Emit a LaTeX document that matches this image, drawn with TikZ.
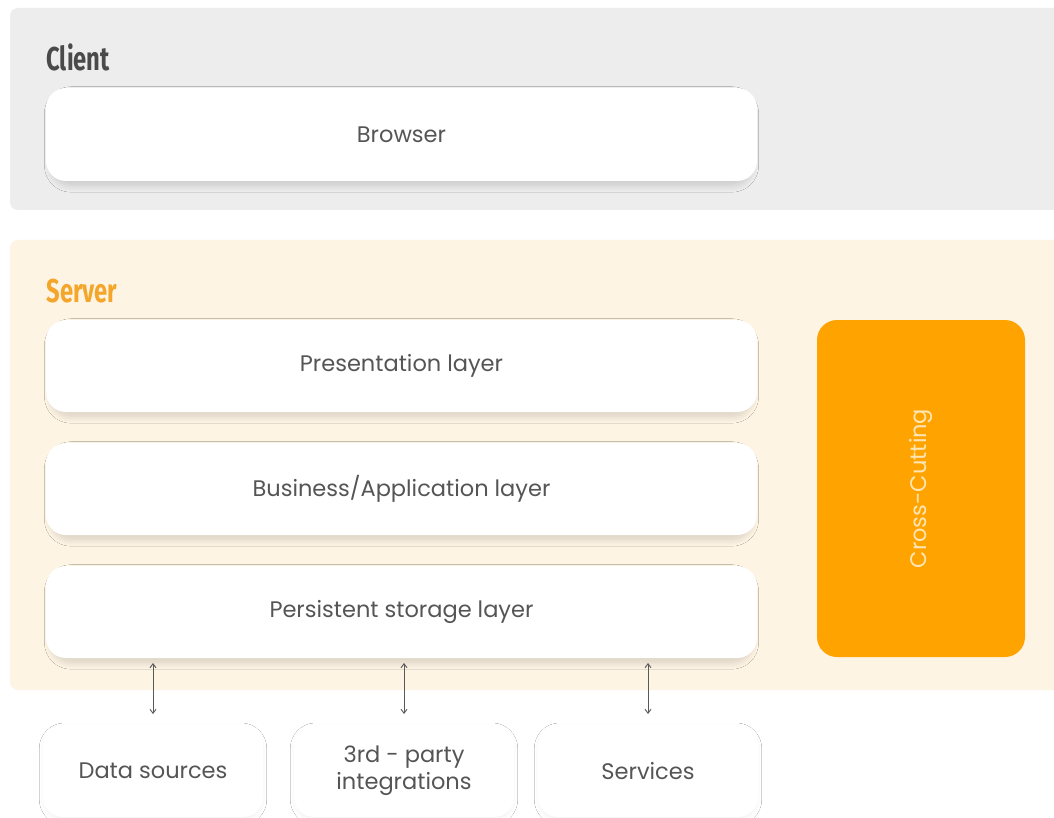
\documentclass[tikz,border=0pt]{standalone}
\usepackage{fontspec}
\setmainfont{Poppins}
\newfontfamily\headfont{Fira Sans}
\usetikzlibrary{shadows.blur,arrows.meta}
\definecolor{clientbg}{HTML}{EDEDED}
\definecolor{serverbg}{HTML}{FEF4E4}
\definecolor{accent}{HTML}{FFA300}
\definecolor{servertitle}{HTML}{F4A62A}
\definecolor{textgray}{HTML}{555555}
\definecolor{titlegray}{HTML}{4A4A4A}
\definecolor{crosstext}{HTML}{FDE6B4}
\tikzset{
  panel/.style={rounded corners=8pt, draw=none},
  boxfont/.style={font=\fontsize{22.5}{27}\selectfont},
  layerbox/.style={rounded corners=20pt, fill=white, draw=none,
    blur shadow={shadow xshift=0pt, shadow yshift=-5pt, shadow blur radius=7pt,
      shadow scale=0.985, shadow blur steps=16, shadow opacity=16},
    text=textgray, boxfont, align=center},
  extbox/.style={rounded corners=20pt, fill=white, draw=none,
    blur shadow={shadow xshift=0pt, shadow yshift=-3pt, shadow blur radius=6pt,
      shadow scale=0.98, shadow blur steps=16, shadow opacity=7},
    text=textgray, boxfont, align=center},
  paneltitle/.style={anchor=west, font=\headfont\bfseries\fontsize{33}{38}\selectfont},
  link/.style={draw=gray!70!black, line width=0.9pt, {Straight Barb[length=4pt,width=6pt]}-{Straight Barb[length=4pt,width=6pt]}}
}
\begin{document}
\begin{tikzpicture}[x=1pt,y=-1pt]
\useasboundingbox (0,0) rectangle (1054,818);
\fill[white] (0,0) rectangle (1054,818);

% client tier
\fill[panel, fill=clientbg] (10,8) rectangle (1070,210);
\node[paneltitle, text=titlegray] (clienttitle) at (43,57) {\scalebox{0.72}[1]{Client}};
\node[layerbox, minimum width=711pt, minimum height=93pt] (browser) at (401.5,134.5) {Browser};

% server tier
\fill[panel, fill=serverbg] (10,240) rectangle (1070,690);
\node[paneltitle, text=servertitle] (servertitle) at (43,291) {\scalebox{0.72}[1]{Server}};
\node[layerbox, minimum width=711pt, minimum height=92pt] (pres) at (401.5,366) {Presentation layer};
\node[layerbox, minimum width=711pt, minimum height=92pt] (biz) at (401.5,489) {Business/Application layer};
\node[layerbox, minimum width=711pt, minimum height=92pt] (store) at (401.5,612) {Persistent storage layer};
\node[rounded corners=20pt, fill=accent, minimum width=208pt, minimum height=337pt] (cross) at (921,488.5) {};
\node[rotate=90, text=crosstext, boxfont] (crosslabel) at (cross.center) {Cross-Cutting};

% external systems
\node[extbox, minimum width=220pt, minimum height=92pt] (data) at (153,771) {Data sources};
\node[extbox, minimum width=220pt, minimum height=92pt] (third) at (404,771) {3rd - party\\integrations};
\node[extbox, minimum width=220pt, minimum height=92pt] (serv) at (648,771) {Services};

% links between the storage layer and the external systems
\coordinate (a1t) at (153,663); \coordinate (a1b) at (153,714);
\coordinate (a2t) at (404,663); \coordinate (a2b) at (404,714);
\coordinate (a3t) at (648,663); \coordinate (a3b) at (648,714);
\draw[link] (a1t) -- (a1b);
\draw[link] (a2t) -- (a2b);
\draw[link] (a3t) -- (a3b);
\end{tikzpicture}
\end{document}
